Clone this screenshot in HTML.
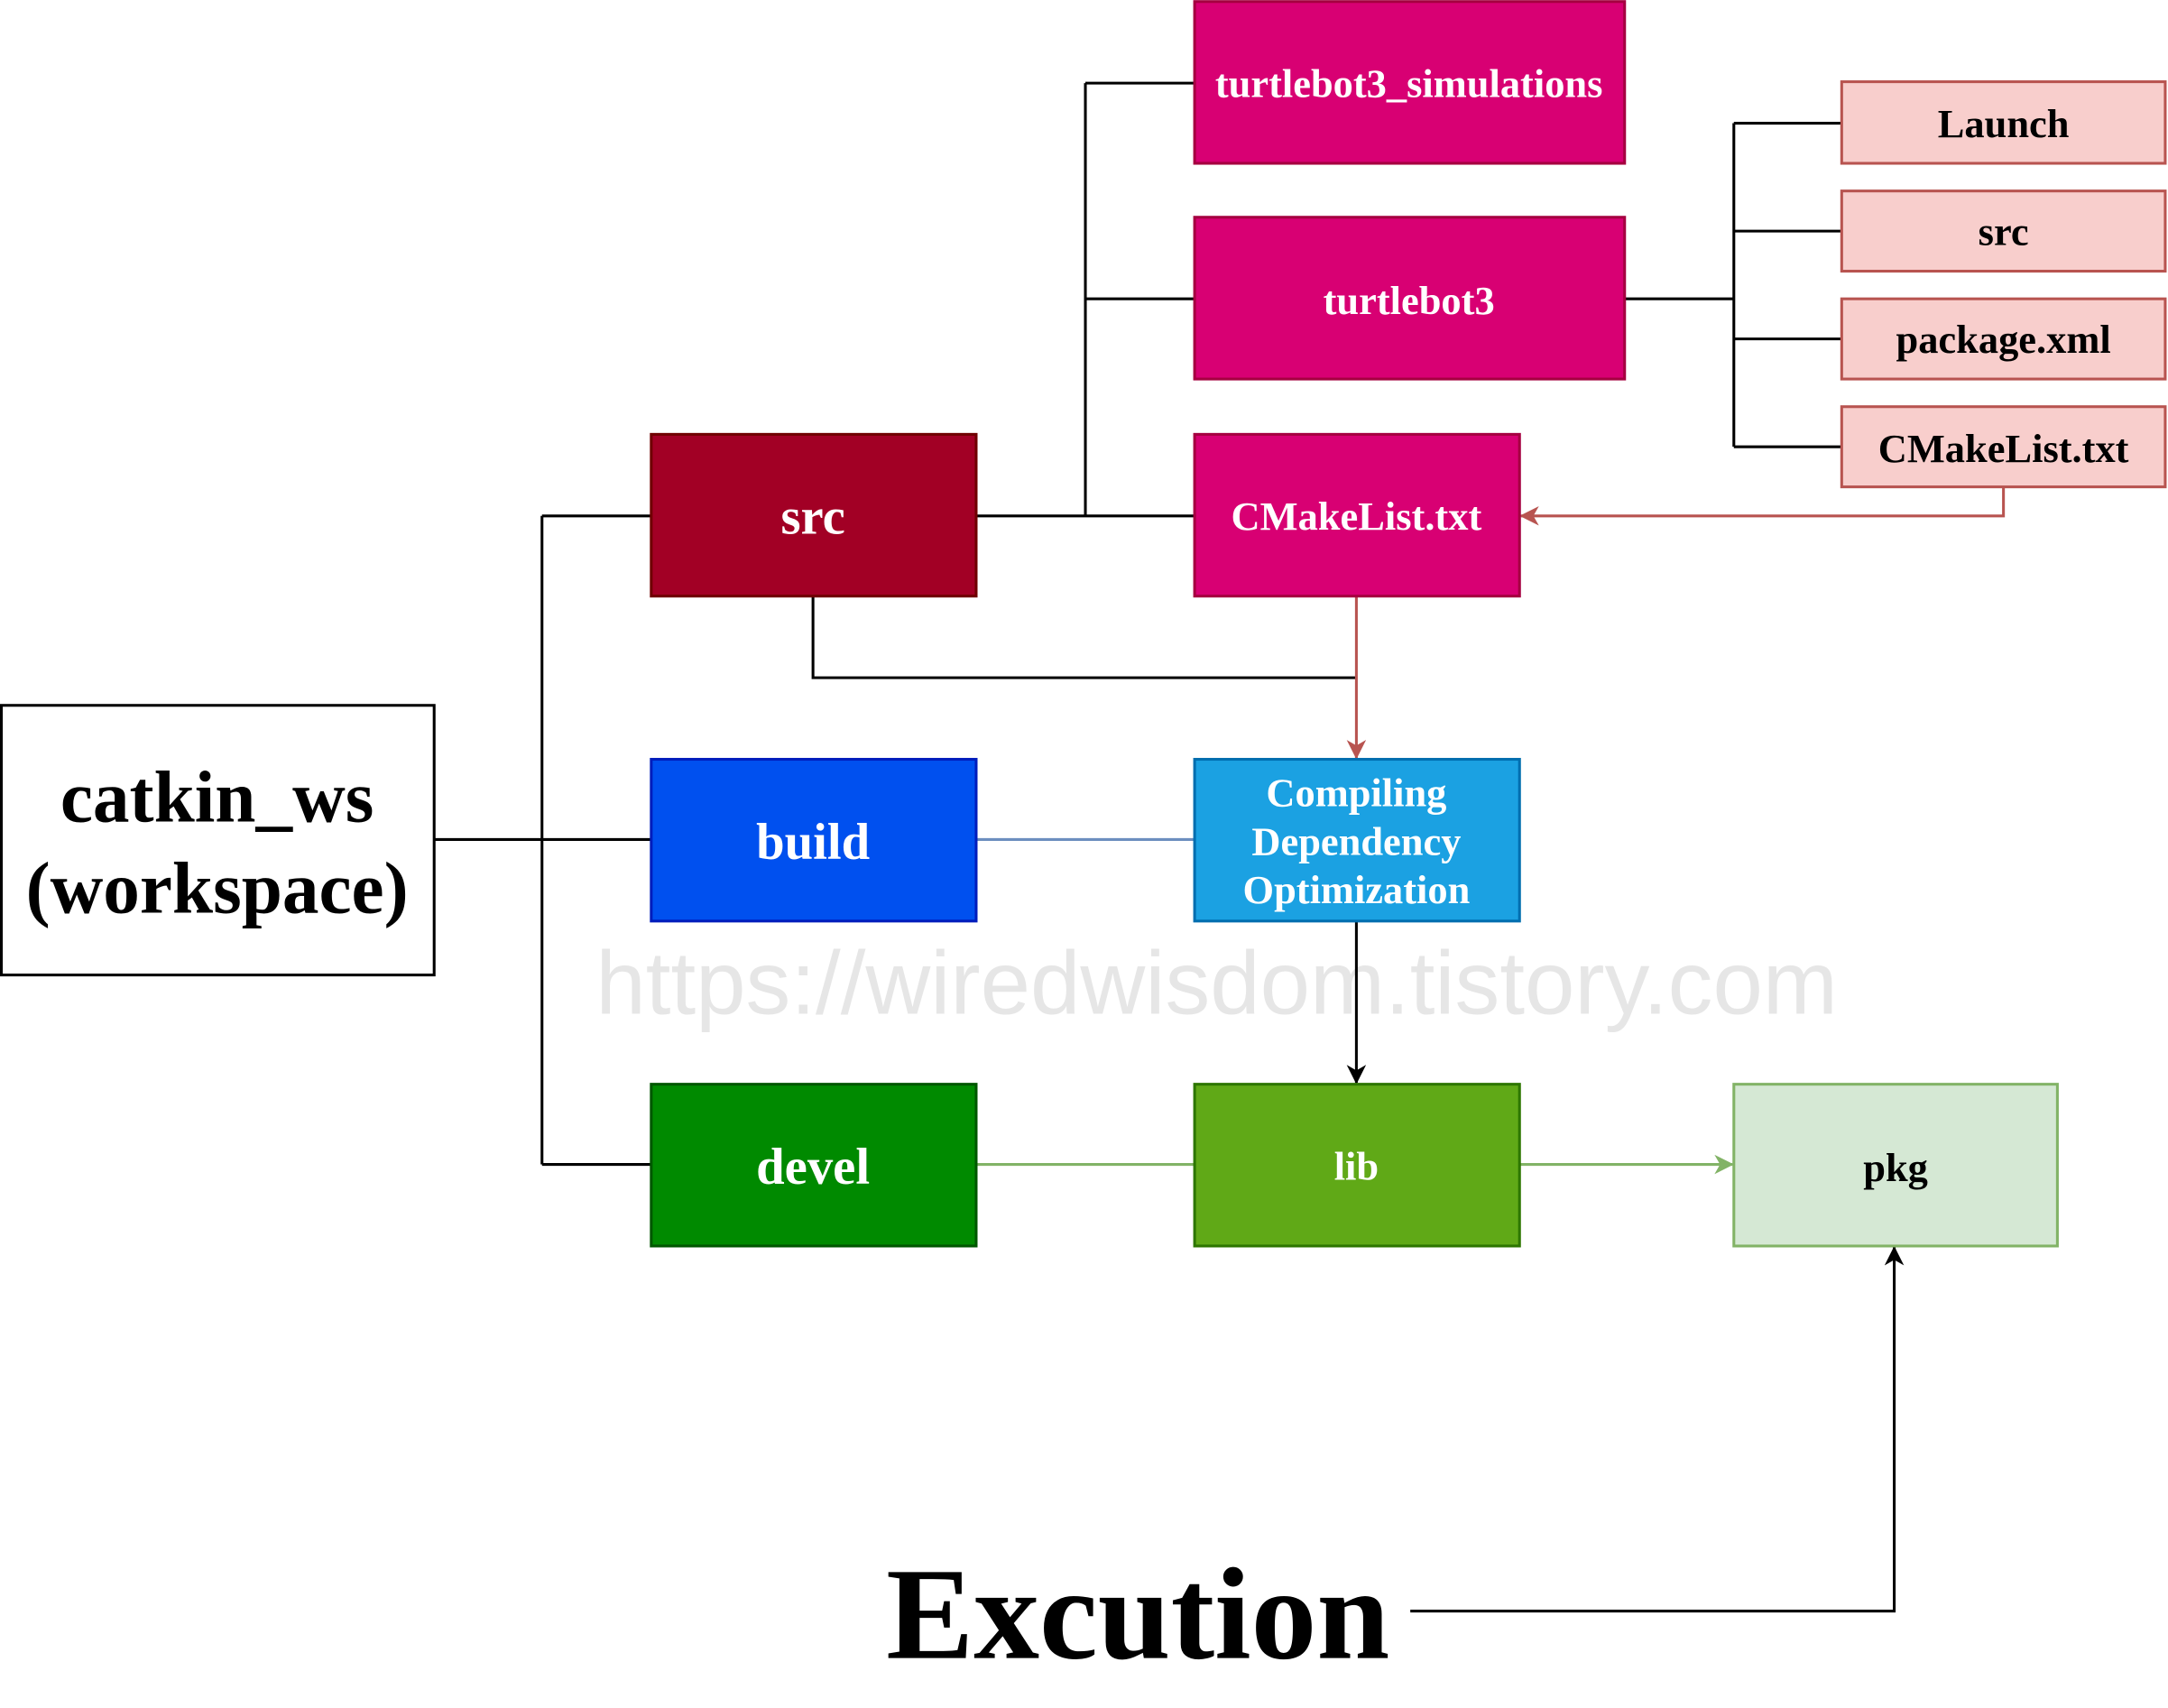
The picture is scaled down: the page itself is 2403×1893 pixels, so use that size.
<!DOCTYPE html>
<html><head><meta charset="utf-8"><style>
html,body{margin:0;padding:0;background:#fff;}
svg{display:block;}
text{font-family:"Liberation Serif",serif;font-weight:bold;}
</style></head><body>
<svg width="2403" height="1893" viewBox="0 0 1568 1235" xmlns="http://www.w3.org/2000/svg">
<defs>
<marker id="ar" markerWidth="14" markerHeight="14" refX="13" refY="7" orient="auto" markerUnits="userSpaceOnUse"><path d="M0,0 L14,7 L0,14 L4,7 Z" fill="#b85450"/></marker>
<marker id="ab" markerWidth="14" markerHeight="14" refX="13" refY="7" orient="auto" markerUnits="userSpaceOnUse"><path d="M0,0 L14,7 L0,14 L4,7 Z" fill="#000"/></marker>
<marker id="ag" markerWidth="14" markerHeight="14" refX="13" refY="7" orient="auto" markerUnits="userSpaceOnUse"><path d="M0,0 L14,7 L0,14 L4,7 Z" fill="#82b366"/></marker>
</defs>
<text x="880" y="733" font-size="65" fill="#e6e6e6" text-anchor="middle" style="font-family:'Liberation Sans',sans-serif;font-weight:normal">https://wiredwisdom.tistory.com</text>
<g fill="none" stroke="#000" stroke-width="2">
<path d="M314,607 H471 M392,373 V842 M392,373 H471 M392,842 H471"/>
<path d="M706,373 H864 M785,60 V373 M785,60 H864 M785,216 H864"/>
<path d="M1175,216 H1254 M1254,89 V323 M1254,89 H1332 M1254,167 H1332 M1254,245 H1332 M1254,323 H1332"/>
<path d="M588,431 V490 H981"/>
<path d="M981,666 V783" marker-end="url(#ab)"/>
<path d="M1020,1165 H1370 V902" marker-end="url(#ab)"/>
</g>
<path d="M1449,352 V373 H1100" fill="none" stroke="#b85450" stroke-width="2" marker-end="url(#ar)"/>
<path d="M981,431 V548" fill="none" stroke="#b85450" stroke-width="2" marker-end="url(#ar)"/>
<path d="M706,607 H864" stroke="#6c8ebf" stroke-width="2"/>
<path d="M706,842 H864" stroke="#82b366" stroke-width="2"/>
<path d="M1099,842 H1253" stroke="#82b366" stroke-width="2" marker-end="url(#ag)"/>

<rect x="1" y="510" width="313" height="195" fill="#fff" stroke="#000" stroke-width="2"/>
<text x="157" y="594" font-size="53" text-anchor="middle">catkin_ws</text>
<text x="157" y="660" font-size="53" text-anchor="middle">(workspace)</text>

<rect x="471" y="314" width="235" height="117" fill="#a20025" stroke="#6f0000" stroke-width="2"/>
<text x="588" y="386" font-size="37" fill="#fff" text-anchor="middle">src</text>
<rect x="471" y="549" width="235" height="117" fill="#0050ef" stroke="#001dbc" stroke-width="2"/>
<text x="588" y="621" font-size="37" fill="#fff" text-anchor="middle">build</text>
<rect x="471" y="784" width="235" height="117" fill="#008a00" stroke="#005700" stroke-width="2"/>
<text x="588" y="856" font-size="37" fill="#fff" text-anchor="middle">devel</text>

<rect x="864" y="1" width="311" height="117" fill="#d80073" stroke="#a50040" stroke-width="2"/>
<text x="1019" y="70" font-size="29" fill="#fff" text-anchor="middle">turtlebot3_simulations</text>
<rect x="864" y="157" width="311" height="117" fill="#d80073" stroke="#a50040" stroke-width="2"/>
<text x="1019" y="227" font-size="29" fill="#fff" text-anchor="middle">turtlebot3</text>
<rect x="864" y="314" width="235" height="117" fill="#d80073" stroke="#a50040" stroke-width="2"/>
<text x="981" y="383" font-size="29" fill="#fff" text-anchor="middle">CMakeList.txt</text>

<rect x="864" y="549" width="235" height="117" fill="#1ba1e2" stroke="#006eaf" stroke-width="2"/>
<text x="981" y="583" font-size="29" fill="#fff" text-anchor="middle">Compiling</text>
<text x="981" y="618" font-size="29" fill="#fff" text-anchor="middle">Dependency</text>
<text x="981" y="653" font-size="29" fill="#fff" text-anchor="middle">Optimization</text>

<rect x="864" y="784" width="235" height="117" fill="#60a917" stroke="#2d7600" stroke-width="2"/>
<text x="981" y="853" font-size="29" fill="#fff" text-anchor="middle">lib</text>
<rect x="1254" y="784" width="234" height="117" fill="#d5e8d4" stroke="#82b366" stroke-width="2"/>
<text x="1371" y="854" font-size="29" fill="#000" text-anchor="middle">pkg</text>

<g fill="#f8cecc" stroke="#b85450" stroke-width="2">
<rect x="1332" y="59" width="234" height="59"/>
<rect x="1332" y="138" width="234" height="58"/>
<rect x="1332" y="216" width="234" height="58"/>
<rect x="1332" y="294" width="234" height="58"/>
</g>
<g font-size="29" text-anchor="middle" fill="#000">
<text x="1449" y="99">Launch</text>
<text x="1449" y="177">src</text>
<text x="1449" y="255">package.xml</text>
<text x="1449" y="334">CMakeList.txt</text>
</g>

<text x="823" y="1199" font-size="95" text-anchor="middle">Excution</text>
</svg>
</body></html>
